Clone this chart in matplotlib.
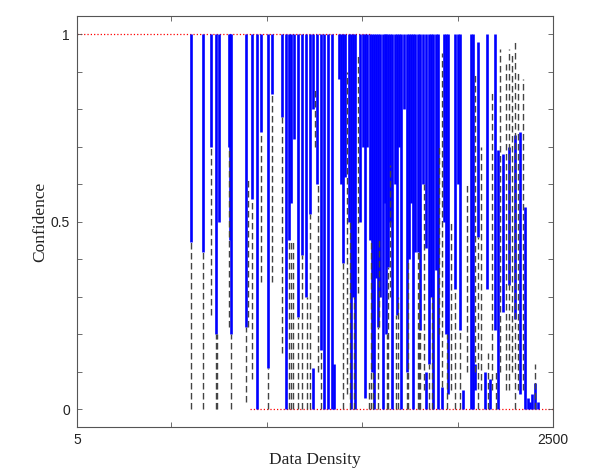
import matplotlib
matplotlib.use("Agg")
import matplotlib.pyplot as plt
from matplotlib.ticker import FixedLocator

# ---- data ----
blue_x = [603, 663, 710, 736, 747, 802, 807, 812, 893, 920, 951, 972, 1006, 1027,
          1082, 1103, 1116, 1127, 1145, 1163, 1184, 1226, 1242, 1242, 1284, 1300,
          1339, 1350, 1378, 1389, 1399, 1410, 1462, 1488, 1504, 1515, 1525, 1572,
          1583, 1593, 1609, 1619, 1635, 1656, 1672, 1703, 1719, 1735, 1756, 1777,
          1792, 1803, 1834, 1834, 1850, 1871, 1887, 1916, 1929, 1950, 1986, 2002,
          2013, 2028, 2070, 2081, 2107, 2144, 2154, 2170, 2196, 2212, 2238, 2269,
          2301, 2327, 2353, 2369, 2379, 2390, 2406, 2421,
          1205, 1263, 1321, 1431, 1441, 1451, 1540, 1551, 1561, 1625, 1646, 1682,
          1693, 1745, 1767, 1819, 1860, 1897, 1939, 2091]
blue_lo = [0.445, 0.42, 0.70, 0.20, 0.50, 0.70, 0.45, 0.20, 0.22, 0.56, 0.00, 0.74, 0.11, 0.84,
           0.78, 0.00, 0.45, 0.55, 0.72, 0.245, 0.41, 0.52, 0.00, 0.80, 0.157, 0.00,
           0.00, 0.00, 0.88, 0.60, 0.39, 0.62, 0.00, 0.50, 0.70, 0.03, 0.70, 0.35,
           0.22, 0.30, 0.00, 0.55, 0.38, 0.00, 0.60, 0.00, 0.80, 0.10, 0.55, 0.42,
           0.42, 0.21, 0.43, 0.00, 0.12, 0.00, 0.37, 0.00, 0.50, 0.04, 0.32, 0.60,
           0.21, 0.00, 0.00, 0.00, 0.46, 0.00, 0.32, 0.00, 0.21, 0.00, 0.26, 0.33,
           0.24, 0.04, 0.00, 0.00, 0.00, 0.00, 0.00, 0.00,
           0.30, 0.60, 0.00, 0.50, 0.00, 0.30, 0.45, 0.10, 0.00, 0.20, 0.50, 0.25,
           0.70, 0.40, 0.00, 0.60, 0.30, 0.00, 0.20, 0.05]
blue_hi = [1, 1, 1, 1, 1, 1, 1, 1, 1, 1, 1, 1, 1, 1,
           1, 1, 1, 1, 1, 1, 1, 1, 0.11, 1, 1, 1,
           1, 0.12, 1, 1, 1, 1, 1, 1, 1, 1, 1, 1,
           1, 1, 1, 1, 1, 1, 1, 1, 1, 1, 1, 1,
           1, 1, 1, 0.10, 1, 1, 1, 0.06, 1, 1, 1, 1,
           1, 0.05, 1, 1, 0.98, 0.10, 1, 0.08, 1, 0.69, 0.68, 0.70,
           0.73, 0.74, 0.54, 0.03, 0.02, 0.04, 0.07, 0.02,
           1, 1, 1, 1, 1, 1, 1, 1, 1, 1, 1, 1,
           1, 1, 1, 1, 1, 1, 1, 0.12]

dash_x = [603, 663, 710, 736, 741, 802, 812, 893, 899, 920, 972, 1006, 1027, 1082,
          1116, 1127, 1137, 1163, 1184, 1226, 1253, 1284, 1399, 1420, 1478, 1533,
          1583, 1588, 1635, 1646, 1688, 1735, 1792, 1797, 1803, 1850, 1902, 1916,
          1965, 1986, 2013, 2049, 2091, 2107, 2123, 2180, 2222, 2254, 2269, 2285,
          2301, 2317, 2343, 2406,
          1210, 1268, 1436, 1456, 1545, 1556, 1630, 1677, 1740, 1824, 1865, 1944,
          2160, 2201]
dash_lo = [0.00, 0.00, 0.25, 0.00, 0.00, 0.22, 0.00, 0.02, 0.22, 0.08, 0.34, 0.00, 0.34, 0.15,
           0.00, 0.00, 0.00, 0.00, 0.00, 0.00, 0.70, 0.00, 0.00, 0.04, 0.31, 0.00,
           0.00, 0.22, 0.00, 0.30, 0.00, 0.00, 0.00, 0.00, 0.00, 0.00, 0.20, 0.06,
           0.05, 0.00, 0.00, 0.10, 0.10, 0.00, 0.05, 0.05, 0.10, 0.05, 0.05, 0.10,
           0.00, 0.05, 0.05, 0.00,
           0.00, 0.10, 0.00, 0.00, 0.00, 0.00, 0.00, 0.00, 0.00, 0.05, 0.00, 0.00,
           0.00, 0.00]
dash_hi = [0.445, 0.42, 0.70, 0.20, 0.20, 0.70, 0.20, 0.22, 0.62, 0.56, 0.74, 0.11, 0.84, 0.78,
           0.45, 0.45, 0.45, 0.245, 0.41, 0.52, 0.86, 0.157, 0.39, 0.90, 0.95, 0.08,
           0.22, 0.45, 0.38, 0.65, 0.30, 0.10, 0.42, 0.42, 0.21, 0.12, 0.70, 0.95,
           0.50, 0.32, 0.21, 0.60, 0.90, 0.46, 0.70, 0.85, 0.96, 0.92, 0.96, 0.95,
           0.98, 0.90, 0.88, 0.12,
           0.30, 0.60, 0.50, 0.30, 0.45, 0.10, 0.20, 0.25, 0.40, 0.60, 0.30, 0.20,
           0.15, 0.10]

red_y = [1, 0]
red_xmin = [5, 912]
red_xmax = [1541, 2500]

x_major = [5, 2500]
x_major_labels = ["5", "2500"]
x_minor = [500, 1000, 1500, 2000]
y_major = [0, 0.5, 1]
y_major_labels = ["0", "0.5", "1"]
y_minor = [0.1, 0.2, 0.3, 0.4, 0.6, 0.7, 0.8, 0.9]

# ---- figure ----
fig = plt.figure(figsize=(5.89, 4.68), dpi=100)
ax = fig.add_axes([0.1307, 0.0876, 0.8082, 0.8782])

ax.hlines(red_y, red_xmin, red_xmax, colors="red", linestyles=":", linewidth=0.9, zorder=1)
ax.vlines(blue_x, blue_lo, blue_hi, colors="#0000ff", linewidth=1.9, zorder=2)
ax.vlines(dash_x, dash_lo, dash_hi, colors="#444444", linewidth=1.0,
          linestyles=[(0, (4.7, 2.5))], zorder=3)

ax.set_xlim(5, 2500)
ax.set_ylim(-0.048, 1.048)

ax.set_xticks(x_major)
ax.set_xticklabels(x_major_labels)
ax.xaxis.set_minor_locator(FixedLocator(x_minor))
ax.set_yticks(y_major)
ax.set_yticklabels(y_major_labels)
ax.yaxis.set_minor_locator(FixedLocator(y_minor))

for lab in ax.get_xticklabels() + ax.get_yticklabels():
    lab.set_fontfamily("Liberation Sans")
    lab.set_fontsize(10)
    lab.set_color("#222222")

ax.tick_params(which="both", direction="in", top=True, right=True,
               length=3.5, width=0.6, color="#555555")
ax.tick_params(axis="x", which="major", pad=4)
ax.tick_params(axis="y", which="major", pad=5)
for s in ax.spines.values():
    s.set_color("#555555")
    s.set_linewidth(0.8)

ax.set_xlabel("Data Density", fontfamily="Liberation Serif", fontsize=12.5,
              color="#222222", labelpad=4)
ax.set_ylabel("Confidence", fontfamily="Liberation Serif", fontsize=12.5,
              color="#222222", labelpad=2)

fig.savefig("out.png", dpi=100)
